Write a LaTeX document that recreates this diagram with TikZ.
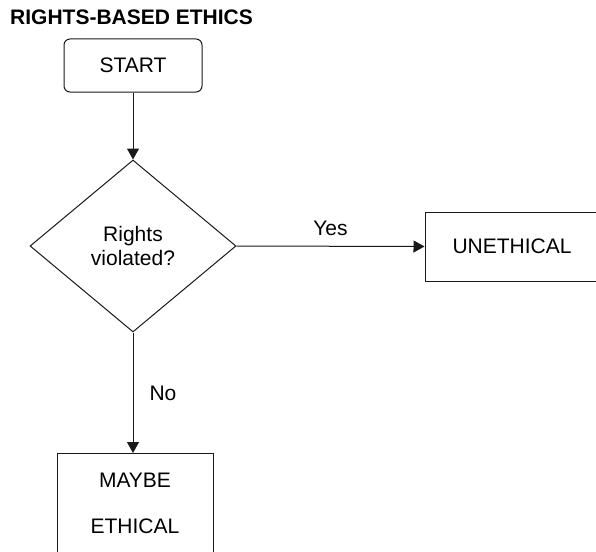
\documentclass[tikz,border=0pt]{standalone}
\usepackage{fontspec}
\setmainfont{Liberation Sans}
\usetikzlibrary{shapes.geometric,arrows.meta}
\begin{document}
\begin{tikzpicture}[x=1pt,y=-1pt,
  every node/.style={font=\fontsize{21}{24.5}\selectfont},
  base/.style={draw=black!90, line width=1pt},
  startbox/.style={base, rectangle, rounded corners=6pt, minimum width=138pt, minimum height=53pt, inner sep=0pt},
  decision/.style={base, diamond, minimum width=206pt, minimum height=172pt, inner sep=0pt, align=center},
  outbox/.style={base, rectangle, inner sep=0pt},
  conn/.style={draw=black!90, line width=1pt, -{Triangle[length=11pt,width=12pt]}},
  lbl/.style={inner sep=0pt}
]
\useasboundingbox (0,0) rectangle (596,551);
\clip (0,0) rectangle (596,551);
\node[anchor=base west, inner sep=0pt, font=\fontsize{21}{25}\selectfont\bfseries] (title) at (10,25) {RIGHTS-BASED ETHICS};
\node[startbox] (start) at (133,65.5) {START};
\node[decision] (dec) at (133,246) {Rights\\violated?};
\node[outbox, minimum width=174pt, minimum height=69pt] (uneth) at (512,246.5) {UNETHICAL};
\node[outbox, anchor=north, minimum width=156pt, minimum height=100pt, align=center, font=\fontsize{21}{46}\selectfont] (maybe) at (135,453) {MAYBE\\ETHICAL};
\draw[conn] (start.south) -- (dec.north);
\draw[conn] (dec.east) -- node[lbl, midway, anchor=base, yshift=10.5pt] (yes) {Yes} (uneth.west);
\draw[conn] (dec.south) -- node[lbl, midway, anchor=base west, xshift=16pt, yshift=-7.5pt] (no) {No} (dec.south |- maybe.north);
\end{tikzpicture}
\end{document}
